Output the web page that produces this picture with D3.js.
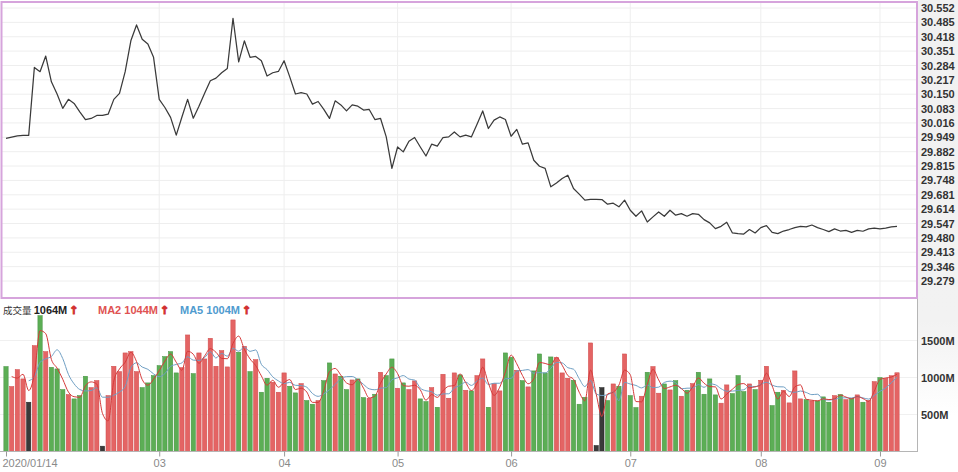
<!DOCTYPE html>
<html><head><meta charset="utf-8">
<script src="https://cdn.jsdelivr.net/npm/d3@7/dist/d3.min.js"></script>
<style>body{margin:0;background:#fff}svg{display:block}</style>
</head><body>
<svg id="chart" width="958" height="472"></svg>
<script>
// ---- data ----
const priceTicks = ["30.552","30.485","30.418","30.351","30.284","30.217","30.150","30.083","30.016","29.949",
  "29.882","29.815","29.748","29.681","29.614","29.547","29.480","29.413","29.346","29.279"];
const volumeTicks = [500, 1000, 1500];
const monthTicks = [
  {i: 0, label: "2020/01/14"}, {i: 27, label: "03"}, {i: 49, label: "04"}, {i: 69, label: "05"},
  {i: 89, label: "06"}, {i: 110, label: "07"}, {i: 133, label: "08"}, {i: 154, label: "09"}
];
const prices = [
  29.944,29.950,29.956,29.958,29.958,30.275,30.255,30.328,30.208,30.151,
  30.084,30.126,30.107,30.068,30.032,30.037,30.051,30.051,30.057,30.126,
  30.154,30.255,30.399,30.473,30.406,30.384,30.322,30.126,30.088,30.042,
  29.959,30.044,30.126,30.038,30.094,30.154,30.213,30.225,30.250,30.270,
  30.504,30.301,30.399,30.322,30.326,30.306,30.235,30.250,30.256,30.306,
  30.231,30.151,30.157,30.151,30.104,30.116,30.079,30.037,30.119,30.100,
  30.072,30.100,30.094,30.076,30.079,30.032,30.037,29.951,29.804,29.904,
  29.881,29.931,29.948,29.904,29.862,29.917,29.908,29.948,29.951,29.974,
  29.951,29.959,29.951,30.010,30.072,29.990,30.029,30.044,30.032,29.954,
  29.986,29.917,29.923,29.842,29.814,29.804,29.718,29.736,29.757,29.772,
  29.710,29.684,29.656,29.660,29.660,29.659,29.637,29.642,29.625,29.656,
  29.609,29.581,29.606,29.554,29.578,29.601,29.581,29.609,29.586,29.593,
  29.581,29.593,29.590,29.565,29.550,29.523,29.534,29.553,29.503,29.500,
  29.498,29.519,29.503,29.528,29.537,29.506,29.500,29.512,29.519,29.528,
  29.534,29.531,29.540,29.528,29.519,29.509,29.522,29.512,29.515,29.506,
  29.515,29.511,29.522,29.525,29.522,29.526,29.531,29.534
];
const volumes = [
  1148,878,1107,981,666,1431,1836,1350,1138,1116,
  837,770,711,756,1017,864,959,72,756,1152,
  1080,1332,1350,1080,864,927,1026,1161,1283,1350,
  1062,1134,1575,1053,1332,1251,1530,1152,1364,1143,
  1778,1341,1422,1080,1242,801,990,936,801,1062,
  882,792,918,689,639,689,958,1197,1048,1017,
  837,967,981,729,720,774,1071,1026,1251,855,
  927,837,954,711,675,864,598,1044,720,1062,
  1035,828,819,1026,1251,598,918,819,1332,1273,
  1098,958,873,1089,1318,1062,1278,1269,1062,990,
  963,639,733,1467,81,864,689,913,882,1318,
  756,594,747,1071,1148,788,913,832,958,747,
  828,918,1071,774,981,765,653,900,783,1026,
  810,913,837,963,1152,621,801,828,657,1089,
  711,702,684,684,738,666,756,770,702,720,
  765,666,689,945,1000,987,1024,1064
];
// R = up, G = down, K = unchanged
const directions = [
  "G","R","R","R","K","R","G","R","G","G",
  "G","R","G","G","G","R","R","K","R","R",
  "R","R","R","R","G","G","G","G","G","G",
  "G","R","R","G","R","R","R","R","R","R",
  "R","G","R","G","R","G","G","R","R","R",
  "G","G","R","G","G","R","G","G","R","G",
  "G","R","G","G","R","G","R","G","G","R",
  "G","R","R","G","G","R","G","R","R","R",
  "G","R","G","R","R","G","R","R","G","G",
  "R","G","R","G","G","G","G","R","R","R",
  "G","G","G","R","K","K","G","R","G","R",
  "G","G","R","G","R","R","G","R","G","R",
  "G","R","G","G","G","G","R","R","G","G",
  "G","R","G","R","R","G","G","R","R","R",
  "R","G","R","G","G","G","R","G","R","G",
  "R","G","R","R","G","R","R","R"
];
const legendItems = [
  {label: "成交量 ", value: "1064M", color: "#222"},
  {label: "MA2 ", value: "1044M", color: "#e05252"},
  {label: "MA5 ", value: "1004M", color: "#4f9bcf"}
];

// ---- drawing ----
const svg = d3.select("#chart");
const n = volumes.length;
const idx = d3.range(n);
const x = d3.scalePoint().domain(idx).range([6, 897]);
const step = x.step();
const barW = step * 0.76;
const yP = d3.scaleLinear().domain([29.279, 30.552]).range([281, 8]);
const yV = d3.scaleLinear().domain([0, 1500]).range([451.5, 340.5]);

const defs = svg.append("defs");
const grad = defs.append("linearGradient").attr("id", "rg").attr("x1", 0).attr("y1", 0).attr("x2", 0).attr("y2", 1);
grad.append("stop").attr("offset", "0%").attr("stop-color", "#f1f1f1");
grad.append("stop").attr("offset", "68%").attr("stop-color", "#f2f2f2");
grad.append("stop").attr("offset", "88%").attr("stop-color", "#ffffff");
svg.append("rect").attr("x", 918).attr("y", 0).attr("width", 40).attr("height", 472).attr("fill", "url(#rg)");

// gridlines
const g = svg.append("g");
g.selectAll(".hg").data(priceTicks).join("line")
  .attr("x1", 2).attr("x2", 916).attr("y1", d => yP(+d)).attr("y2", d => yP(+d))
  .attr("stroke", "#eeeeee").attr("stroke-width", 1);
g.selectAll(".vg").data(monthTicks.slice(1)).join("line")
  .attr("x1", d => x(d.i)).attr("x2", d => x(d.i)).attr("y1", 3).attr("y2", 451)
  .attr("stroke", "#eeeeee").attr("stroke-width", 1);
g.selectAll(".vhg").data(volumeTicks).join("line")
  .attr("x1", 0).attr("x2", 917).attr("y1", d => yV(d)).attr("y2", d => yV(d))
  .attr("stroke", "#f0f0f0").attr("stroke-width", 1);

// price line
svg.append("path").datum(prices)
  .attr("fill", "none").attr("stroke", "#3a3a3a").attr("stroke-width", 1.25)
  .attr("stroke-linejoin", "round")
  .attr("d", d3.line().x((d, i) => x(i)).y(d => yP(d)));

// top frame
svg.append("rect").attr("x", 1.5).attr("y", 2).attr("width", 915.5).attr("height", 296)
  .attr("fill", "none").attr("stroke", "#d6a4dc").attr("stroke-width", 2);

// right price axis
const axP = svg.append("g").attr("transform", "translate(917,0)")
  .call(d3.axisRight(yP).tickValues(priceTicks.map(Number)).tickSize(0).tickPadding(4)
    .tickFormat((d, i) => priceTicks[i]));
axP.select(".domain").remove();
axP.selectAll("text").attr("font-family", "Liberation Sans, Arial, sans-serif")
  .attr("font-size", 11).attr("font-weight", "bold").attr("fill", "#333");

// volume bars
const colorOf = {R: "#e46464", G: "#5cae55", K: "#3a3a3a"};
const strokeOf = {R: "#cf4b4b", G: "#449140", K: "#222"};
svg.append("g").selectAll("rect").data(volumes).join("rect")
  .attr("x", (d, i) => x(i) - barW / 2).attr("width", barW)
  .attr("y", d => yV(d)).attr("height", d => yV(0) - yV(d))
  .attr("fill", (d, i) => colorOf[directions[i]])
  .attr("stroke", (d, i) => strokeOf[directions[i]]).attr("stroke-width", 0.5);

// moving averages
function ma(k) {
  return volumes.map((v, i) => i < k - 1 ? null : d3.mean(volumes.slice(i - k + 1, i + 1)));
}
const ma2 = ma(2), ma5 = ma(5);
const lineV = d3.line().defined(d => d != null).x((d, i) => x(i)).y(d => yV(d)).curve(d3.curveMonotoneX);
svg.append("path").datum(ma5).attr("fill", "none").attr("stroke", "#6f9fc4").attr("stroke-width", 1)
  .attr("d", lineV);
svg.append("path").datum(ma2).attr("fill", "none").attr("stroke", "#d63a3a").attr("stroke-width", 1)
  .attr("d", lineV);

// bottom axis lines
svg.append("line").attr("x1", 0).attr("x2", 918).attr("y1", 451.5).attr("y2", 451.5).attr("stroke", "#b5b5b5");
svg.append("line").attr("x1", 917.5).attr("x2", 917.5).attr("y1", 299).attr("y2", 452).attr("stroke", "#b5b5b5");

// right volume axis
const axV = svg.append("g").attr("transform", "translate(917,0)")
  .call(d3.axisRight(yV).tickValues(volumeTicks).tickSize(0).tickPadding(4).tickFormat(d => d + "M"));
axV.select(".domain").remove();
axV.selectAll("text").attr("font-family", "Liberation Sans, Arial, sans-serif")
  .attr("font-size", 11).attr("font-weight", "bold").attr("fill", "#333");

// bottom axis
const axX = svg.append("g").attr("transform", "translate(0,451.5)")
  .call(d3.axisBottom(x).tickValues(monthTicks.map(d => d.i)).tickSize(5).tickPadding(3)
    .tickFormat(d => monthTicks.find(m => m.i === d).label));
axX.select(".domain").remove();
axX.selectAll("line").attr("stroke", "#999");
axX.selectAll("text").attr("font-family", "Liberation Sans, Arial, sans-serif")
  .attr("font-size", 11).attr("fill", "#8a8a8a")
  .attr("text-anchor", d => d === 0 ? "start" : "middle")
  .attr("dx", d => d === 0 ? -4 : 0);

// legend
const lg = svg.append("g").attr("transform", "translate(0,314)");
const lx = [3, 98, 180];
legendItems.forEach((it, k) => {
  const t = lg.append("text").attr("x", lx[k]).attr("y", 0)
    .attr("font-family", "Liberation Sans, Arial, 'Noto Sans CJK TC', sans-serif").attr("font-size", 11);
  if (k === 0) {
    t.append("tspan").text(it.label).attr("font-family", "'Noto Sans CJK TC', sans-serif").attr("font-size", 9.5).attr("fill", "#333");
  } else {
    t.append("tspan").text(it.label).attr("font-weight", "bold").attr("fill", it.color);
  }
  t.append("tspan").text(it.value).attr("font-weight", "bold").attr("fill", it.color);
  t.append("tspan").text("↑").attr("dx", 2).attr("font-family", "DejaVu Sans, sans-serif").attr("font-weight", "bold")
    .attr("font-size", 11).attr("fill", "#d23030").attr("stroke", "#d23030").attr("stroke-width", 0.9);
});
</script>
</body></html>
